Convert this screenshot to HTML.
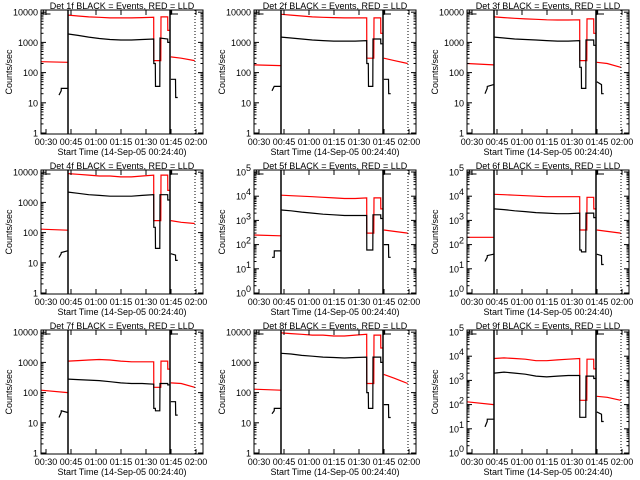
<!DOCTYPE html>
<html><head><meta charset="utf-8"><style>
html,body{margin:0;padding:0;background:#fff}
svg{display:block}
text{font-family:"Liberation Sans",sans-serif;font-size:9px;fill:#000}
</style></head><body>
<svg id="c" width="640" height="480" viewBox="0 0 640 480" xmlns="http://www.w3.org/2000/svg"></svg>
<script>
const detNames = ["1","2","3","4","5","6","7","8","9"];
const sciAxis = [false,false,false,false,true,true,false,false,true];
const xTickLabels = ["00:30","00:45","01:00","01:15","01:30","01:45","02:00"];
const xTickTimes = [30,45,60,75,90,105,120];
const redTimes = [27.0,43.0,null,43.4,49.2,55.6,62.0,68.4,74.8,81.3,87.7,94.6,94.7,98.9,99.0,103.0,103.1,104.3,null,104.9,111.1,119.2];
const blackTimes = [37.8,39.1,39.2,43.0,null,43.4,49.2,55.6,62.0,68.4,74.8,81.3,87.7,94.6,94.7,95.6,95.7,98.3,98.4,103.0,103.1,104.3,null,104.9,107.7,107.8,109.0];
const red1=[230,220,null,8000,7500,7000,6800,6500,6500,6500,6600,6800,250,250,7000,7000,2500,2500,null,330,300,250];
const red2=[180,170,null,8500,8000,7500,7000,6800,6600,6500,6500,6500,300,300,6500,6500,2000,2000,null,300,250,200];
const red3=[200,180,null,7000,6600,6300,6000,5800,5600,5500,5500,5600,250,250,6000,6000,2000,2000,null,220,200,150];
const red4=[130,120,null,9000,8500,8000,7500,7500,7000,7000,7500,8000,250,250,8000,8000,2500,2500,null,250,220,200];
const red5=[250,230,null,11000,10500,10000,9500,9000,8500,8000,8000,8500,300,300,8500,8500,3000,3000,null,400,350,300];
const red6=[200,200,null,12000,11500,11000,10500,10000,9500,9500,9500,9500,400,400,9000,9000,3000,3000,null,400,350,300];
const red7=[120,100,null,1100,1150,1200,1250,1200,1100,1050,1050,1050,150,150,1100,1100,600,600,null,210,200,150];
const red8=[130,120,null,9500,9000,8500,8000,8000,7500,7500,8000,8500,200,200,8000,8000,3000,3000,null,400,300,200];
const red9=[130,100,null,8000,8500,8000,7500,6500,6500,7000,7500,8000,150,150,7500,7500,3000,3000,null,220,200,150];
const black1=[18,25,30,30,null,1900,1700,1500,1350,1250,1200,1200,1250,1300,200,200,35,35,1400,1300,1000,1000,null,60,60,15,15];
const black2=[25,35,35,35,null,1500,1400,1300,1200,1150,1100,1100,1100,1150,200,200,35,35,1300,1300,900,900,null,60,60,20,20];
const black3=[20,30,35,40,null,1500,1400,1300,1250,1200,1150,1100,1100,1150,150,150,30,30,1200,1200,800,800,null,50,40,20,20];
const black4=[15,20,22,25,null,2200,2000,1800,1700,1600,1600,1600,1700,1800,150,150,30,30,1800,1800,1200,1200,null,20,18,12,12];
const black5=[30,30,55,55,null,2700,2500,2200,2000,1800,1700,1600,1600,1600,60,60,60,60,1700,1700,1200,1200,null,100,100,30,30];
const black6=[20,30,35,40,null,3000,2800,2500,2300,2100,2000,1900,1900,2000,60,60,50,50,2000,2000,1300,1300,null,40,35,15,15];
const black7=[15,22,25,22,null,280,270,260,250,230,210,200,200,190,30,30,25,25,200,200,180,180,null,50,50,18,18];
const black8=[20,25,30,30,null,2000,1900,1700,1600,1500,1450,1400,1450,1500,100,100,30,30,1500,1500,1000,1000,null,40,40,15,15];
const black9=[12,20,25,25,null,2000,2200,2000,1800,1500,1400,1500,1600,1600,30,30,30,30,1500,1500,1200,1200,null,50,40,20,20];
const redSeries=[red1,red2,red3,red4,red5,red6,red7,red8,red9];
const blackSeries=[black1,black2,black3,black4,black5,black6,black7,black8,black9];

const svg=document.getElementById('c');
const NS="http://www.w3.org/2000/svg";
function mk(tag,attrs,parent){const e=document.createElementNS(NS,tag);for(const k in attrs)e.setAttribute(k,attrs[k]);parent.appendChild(e);return e;}
const colLeft=[41,254,467], rowTop=[10,170,330], W=162, H=124;
const T0=27.0, T1=124.2;
function pathFrom(times,vals,xs,ys){let d="",pen=false;for(let i=0;i<times.length;i++){if(times[i]===null||vals[i]===null){pen=false;continue;}
 const x=xs(times[i]).toFixed(1),y=ys(vals[i]).toFixed(1);d+=(pen?"L":"M")+x+" "+y+" ";pen=true;}return d;}
for(let p=0;p<9;p++){
 const L=colLeft[p%3],T=rowTop[Math.floor(p/3)],B=T+H,R=L+W;
 const sci=sciAxis[p];
 const y1=B-1;
 const ppd=sci?24.2:30.2;
 const xs=t=>L+(t-T0)/(T1-T0)*W;
 const ys=v=>Math.max(T,Math.min(B,y1-Math.log10(Math.max(v,0.5))*ppd));
 const g=mk('g',{},svg);
 
 
 const rp=mk('path',{d:pathFrom(redTimes,redSeries[p],xs,ys),fill:'none',stroke:'#ff0000','stroke-width':1.2},g);
 
 
 const bp=mk('path',{d:pathFrom(blackTimes,blackSeries[p],xs,ys),fill:'none',stroke:'#000','stroke-width':1.2},g);
 
 
 [43.2,104.4].forEach(t=>{const l=mk('line',{x1:xs(t),x2:xs(t),y1:T,y2:B,stroke:'#000','stroke-width':1.5},g);
  
  });
 const dl=mk('line',{x1:xs(119.4),x2:xs(119.4),y1:T,y2:B,stroke:'#000','stroke-width':1,'stroke-dasharray':'1,2'},g);
 
 
 [[28.4,32.7],[105.4,109.2]].forEach(a=>{const b=mk('path',{d:`M${xs(a[0])} ${T} V${T+4} H${xs(a[1])}`,fill:'none',stroke:'#000','stroke-width':1},g);
  
  });
 const fr=mk('rect',{x:L,y:T,width:W,height:H,fill:'none',stroke:'#000','stroke-width':1},g);
 
 
 const nDec=sci?5:4;
 for(let d=0;d<=nDec;d++){
  const y=y1-d*ppd;
  mk('line',{x1:L,x2:L+5,y1:y,y2:y,stroke:'#000'},g);mk('line',{x1:R,x2:R-5,y1:y,y2:y,stroke:'#000'},g);
  for(let m=2;m<10;m++){const ym=y-Math.log10(m)*ppd;if(ym<T)break;
   mk('line',{x1:L,x2:L+2.5,y1:ym,y2:ym,stroke:'#000'},g);mk('line',{x1:R,x2:R-2.5,y1:ym,y2:ym,stroke:'#000'},g);}
  let tx;
  if(sci){tx=mk('text',{x:L-8,y:y+3.5,'text-anchor':'end','font-size':'8.5px'},g);tx.textContent='10';
   const s=mk('text',{x:L-8,y:y-1,'font-size':'6px'},g);s.textContent=String(d);}
  else{tx=mk('text',{x:L-3,y:y+3.5,'text-anchor':'end','font-size':'8.5px'},g);tx.textContent=String(Math.pow(10,d));}
  
  
 }
 for(let i=0;i<xTickTimes.length;i++){const x=xs(xTickTimes[i]);
  mk('line',{x1:x,x2:x,y1:B,y2:B-5,stroke:'#000'},g);mk('line',{x1:x,x2:x,y1:T,y2:T+5,stroke:'#000'},g);
  const t=mk('text',{x:x,y:B+11,'text-anchor':'middle','font-size':'8px'},g);t.textContent=xTickLabels[i];
  
  }
 const tt=mk('text',{x:L+W/2,y:T-1,'text-anchor':'middle','font-size':'10px'},g);
 tt.textContent='Det '+detNames[p]+'f BLACK = Events, RED = LLD';
 
 
 const xt=mk('text',{x:L+W/2,y:B+21,'text-anchor':'middle','font-size':'9.5px'},g);
 xt.textContent='Start Time (14-Sep-05 00:24:40)';
 
 
 const yt=mk('text',{x:0,y:0,'text-anchor':'middle','font-size':'8px',transform:`translate(${L-29},${T+H/2}) rotate(-90)`},g);
 yt.textContent='Counts/sec';
 
 
}
</script>
</body></html>
